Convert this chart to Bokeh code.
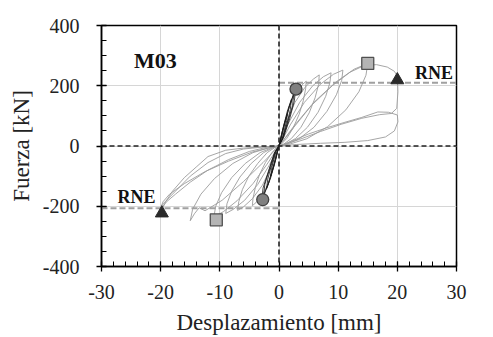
from bokeh.plotting import figure
from bokeh.models import Range1d, Label, FixedTicker, Span
from bokeh.embed import file_html
from bokeh.resources import INLINE

# ---------------- data ----------------
x_ticks = [-30, -20, -10, 0, 10, 20, 30]
x_tick_labels = ["-30", "-20", "-10", "0", "10", "20", "30"]
y_ticks = [-400, -200, 0, 200, 400]
y_tick_labels = ["-400", "-200", "0", "200", "400"]

# small early cycles (dark bundle)
cyc1_d = [0, 0.5, 1.0, 1.4, 1.3, 0.9, 0.4, 0, -0.5, -1.0, -1.4, -1.3, -0.9, -0.4, 0]
cyc1_f = [0, 45, 80, 105, 85, 50, 15, 2, -40, -75, -100, -80, -45, -12, 0]
cyc2_d = [0, 0.7, 1.4, 2.1, 1.9, 1.3, 0.6, 0, -0.7, -1.4, -2.1, -1.9, -1.3, -0.6, 0]
cyc2_f = [0, 60, 115, 155, 120, 70, 22, 3, -55, -105, -142, -110, -65, -18, 0]
cyc3_d = [0, 0.9, 1.8, 2.8, 2.6, 1.8, 0.8, 0, -0.9, -1.9, -2.9, -2.7, -1.8, -0.8, 0]
cyc3_f = [0, 70, 135, 189, 150, 90, 30, 4, -65, -130, -176, -140, -85, -25, 0]
cyc4_d = [0, 0.8, 1.7, 2.5, 2.3, 1.5, 0.6, 0, -0.8, -1.7, -2.6, -2.4, -1.6, -0.7, 0]
cyc4_f = [0, 62, 128, 175, 135, 80, 25, 2, -58, -120, -165, -128, -75, -20, 0]

# larger cycles (light grey)
cyc5_d = [0, 0.8, 1.8, 3.0, 4.0, 4.6, 4.5, 4.1, 3.4, 2.4, 1.3, 0.4, 0,
          -0.8, -1.8, -3.0, -3.9, -4.5, -4.4, -4.0, -3.3, -2.3, -1.2, -0.4, 0]
cyc5_f = [0, 70, 135, 180, 205, 215, 190, 150, 105, 60, 25, 6, 0,
          -65, -125, -168, -188, -198, -175, -138, -95, -55, -22, -5, 0]
cyc6_d = [0, 1.2, 2.7, 4.4, 5.8, 6.8, 6.7, 6.1, 5.1, 3.7, 2.1, 0.7, 0,
          -1.2, -2.8, -4.5, -6.0, -7.0, -6.8, -6.2, -5.1, -3.6, -2.0, -0.7, 0]
cyc6_f = [0, 75, 145, 195, 222, 236, 205, 160, 110, 62, 25, 5, 0,
          -65, -130, -175, -202, -214, -185, -145, -100, -58, -22, -5, 0]
cyc7_d = [0, 1.5, 3.5, 5.7, 7.5, 8.8, 8.6, 7.9, 6.6, 4.8, 2.8, 1.0, 0,
          -1.6, -3.6, -5.8, -7.7, -9.0, -8.8, -8.0, -6.6, -4.7, -2.6, -0.9, 0]
cyc7_f = [0, 72, 145, 200, 230, 243, 210, 165, 112, 62, 25, 5, 0,
          -62, -128, -180, -210, -224, -192, -150, -103, -58, -22, -5, 0]
cyc8_d = [0, 1.9, 4.3, 7.0, 9.2, 10.8, 10.6, 9.7, 8.1, 5.9, 3.4, 1.2, 0,
          -2.0, -4.4, -7.1, -9.4, -11.0, -10.7, -9.7, -8.0, -5.7, -3.2, -1.1, 0]
cyc8_f = [0, 70, 145, 205, 238, 252, 218, 170, 115, 62, 24, 5, 0,
          -60, -125, -182, -218, -235, -200, -155, -105, -58, -22, -5, 0]
cyc9_d = [0, 2.6, 5.9, 9.6, 12.7, 15.0, 14.7, 13.5, 11.3, 8.2, 4.7, 1.6, 0,
          -2.7, -6.0, -9.6, -12.5, -13.5, -14.3, -15.0, -14.6, -13.2, -10.9, -7.8, -4.4, -1.5, 0]
cyc9_f = [0, 68, 145, 212, 255, 274, 235, 180, 120, 64, 24, 5, 0,
          -55, -118, -180, -215, -205, -225, -248, -210, -160, -108, -58, -22, -5, 0]
cyc10_d = [0, 2.5, 5.5, 9, 12, 14.5, 16.5, 18.3, 19.5, 20.0, 20.1, 19.9, 19.0, 17.0, 14.0, 10.5, 7, 3.5, 1, 0,
           -3, -6, -9, -12, -14, -16, -18, -19.3, -20, -19.8, -19.0, -17.5, -15, -12, -8.5, -5, -2, 0]
cyc10_f = [0, 62, 135, 200, 245, 268, 270, 262, 248, 232, 180, 125, 108, 104, 92, 72, 48, 22, 5, 0,
           -3, -7, -14, -35, -70, -105, -150, -190, -222, -205, -185, -160, -120, -80, -45, -18, -4, 0]
cyc11_d = [0, 2, 5, 8, 11, 14, 16.7, 18.5, 20, 20.1, 19.5, 18, 15, 11, 7, 3, 0,
           -3, -6, -9, -12, -15, -17.5, -19.5, -20, -19.6, -18.5, -16, -12.5, -8.5, -4.5, -1.5, 0]
cyc11_f = [0, 15, 40, 60, 78, 95, 113, 112, 103, 80, 50, 30, 18, 12, 9, 5, 0,
           -4, -10, -25, -55, -100, -150, -190, -205, -185, -160, -125, -85, -50, -20, -5, 0]

small_d = [cyc1_d, cyc2_d, cyc3_d, cyc4_d]
small_f = [cyc1_f, cyc2_f, cyc3_f, cyc4_f]
large_d = [cyc5_d, cyc6_d, cyc7_d, cyc8_d, cyc9_d, cyc10_d, cyc11_d]
large_f = [cyc5_f, cyc6_f, cyc7_f, cyc8_f, cyc9_f, cyc10_f, cyc11_f]

circle_d = [2.87, -2.75]
circle_f = [189, -178]
square_d = [15.0, -10.6]
square_f = [274, -245]
triangle_d = [20.0, -19.8]
triangle_f = [219, -223]

rne_pos_d = [0, 30]
rne_pos_f = [210, 210]
rne_neg_d = [-30, 0]
rne_neg_f = [-207, -207]

SERIF = "Liberation Serif"

p = figure(width=485, height=337, output_backend="svg", toolbar_location=None,
           x_range=Range1d(-30, 30), y_range=Range1d(-400, 400),
           min_border_left=101, min_border_right=29, min_border_top=25, min_border_bottom=69)
p.background_fill_color = "white"
p.border_fill_color = "white"
p.outline_line_color = "black"
p.outline_line_width = 1.5

for ax in (p.xaxis[0], p.yaxis[0]):
    ax.axis_line_color = "black"
    ax.axis_line_width = 1.5
    ax.major_tick_line_color = "black"
    ax.minor_tick_line_color = "black"
    ax.major_tick_line_width = 1.3
    ax.minor_tick_line_width = 1.0
    ax.major_tick_in = 5
    ax.major_tick_out = 5
    ax.minor_tick_in = 5
    ax.minor_tick_out = 0
    ax.major_label_text_font = SERIF
    ax.major_label_text_font_size = "20px"
    ax.major_label_text_color = "#222222"
    ax.axis_label_text_font = SERIF
    ax.axis_label_text_font_size = "23px"
    ax.axis_label_text_font_style = "normal"
    ax.axis_label_text_color = "#222222"

p.xaxis[0].axis_label = "Desplazamiento [mm]"
p.yaxis[0].axis_label = "Fuerza [kN]"
p.xaxis[0].axis_label_standoff = 8
p.yaxis[0].axis_label_standoff = 6

p.xaxis[0].ticker = FixedTicker(ticks=x_ticks, minor_ticks=[v for v in range(-30, 31, 2)])
p.yaxis[0].ticker = FixedTicker(ticks=y_ticks, minor_ticks=[v for v in range(-400, 401, 50)])
p.xaxis[0].major_label_overrides = {t: s for t, s in zip(x_ticks, x_tick_labels)}
p.yaxis[0].major_label_overrides = {t: s for t, s in zip(y_ticks, y_tick_labels)}
p.xaxis[0].major_label_standoff = 13
p.yaxis[0].major_label_standoff = 17

p.xgrid[0].ticker = FixedTicker(ticks=x_ticks)
p.ygrid[0].ticker = FixedTicker(ticks=y_ticks)
p.xgrid[0].grid_line_color = "#d6d6d6"
p.ygrid[0].grid_line_color = "#d6d6d6"
p.xgrid[0].grid_line_width = 1
p.ygrid[0].grid_line_width = 1

# RNE reference lines
p.line(rne_pos_d, rne_pos_f, line_color="#a0a0a0", line_width=2, line_dash="6 3")
p.line(rne_neg_d, rne_neg_f, line_color="#a0a0a0", line_width=2, line_dash="6 3")

# hysteresis loops
p.multi_line(large_d, large_f, line_color="#9c9c9c", line_width=0.9, line_join="round")
p.multi_line(small_d, small_f, line_color="#1a1a1a", line_width=1.0, line_alpha=0.8, line_join="round")

# zero dashed lines
p.add_layout(Span(location=0, dimension="width", line_color="#222222", line_width=1.6, line_dash="5 3"))
p.add_layout(Span(location=0, dimension="height", line_color="#222222", line_width=1.6, line_dash="5 3"))

# markers
p.scatter(circle_d, circle_f, marker="circle", size=12, fill_color="#7f7f7f", line_color="#404040", line_width=1.3)
p.scatter(square_d, square_f, marker="square", size=12, fill_color="#b4b4b4", line_color="#505050", line_width=1.3)
p.scatter(triangle_d, triangle_f, marker="triangle", size=13, fill_color="#2a2a2a", line_color="#2a2a2a")

# texts
p.add_layout(Label(x=-24.5, y=283, text="M03", text_font=SERIF, text_font_style="bold",
                   text_font_size="22px", text_color="#111111", text_baseline="middle"))
p.add_layout(Label(x=23.0, y=242, text="RNE", text_font=SERIF, text_font_style="bold",
                   text_font_size="18px", text_color="#111111", text_baseline="middle"))
p.add_layout(Label(x=-27.3, y=-168, text="RNE", text_font=SERIF, text_font_style="bold",
                   text_font_size="18px", text_color="#111111", text_baseline="middle"))

open("out.html", "w").write(file_html(p, INLINE))
